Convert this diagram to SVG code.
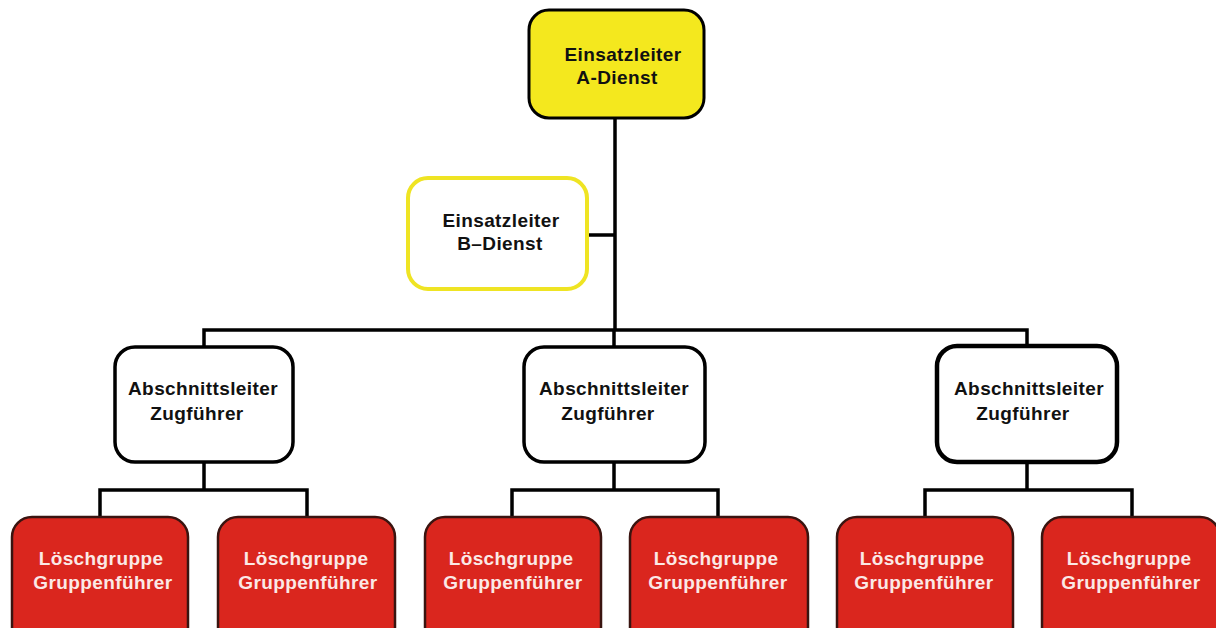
<svg xmlns="http://www.w3.org/2000/svg" width="1216" height="628" viewBox="0 0 1216 628">
<style>
text{font-family:"Liberation Sans",Arial,sans-serif;font-weight:bold;font-size:19px;letter-spacing:0.4px;text-anchor:middle}
.w{fill:#ffffff;stroke:#000;stroke-width:3.5}
.y{fill:#f4e81e;stroke:#000;stroke-width:3}
.b{fill:#ffffff;stroke:#efe423;stroke-width:4}
.r{fill:#da261e;stroke:#3a1410;stroke-width:2.5}
.dk{fill:#111}
.lt{fill:#fbe9e6}
.c{fill:none;stroke:#000;stroke-width:3.5}
</style>
<rect width="1216" height="628" fill="#fff"/>
<g id="connectors">
<path class="c" d="M615 118 V330 M587 235 H615 M204 347 V330 H1027 V346 M614 330 V347"/>
<path class="c" d="M204 462 V490 M100 517 V490 H307 V517"/>
<path class="c" d="M614 462 V490 M512 517 V490 H718 V517"/>
<path class="c" d="M1027 462 V490 M925 517 V490 H1132 V517"/>
</g>
<g id="n_a">
<rect class="y" x="529" y="10" width="175" height="108" rx="20"/>
<text class="dk" x="623" y="61">Einsatzleiter</text>
<text class="dk" x="617" y="84">A-Dienst</text>
</g>
<g id="n_b">
<rect class="b" x="408" y="178" width="179" height="111" rx="20"/>
<text class="dk" x="501" y="227">Einsatzleiter</text>
<text class="dk" x="500" y="250">B–Dienst</text>
</g>
<g id="n_z1">
<rect class="w" x="115" y="347" width="178" height="115" rx="20"/>
<text class="dk" x="203" y="395">Abschnittsleiter</text>
<text class="dk" x="197" y="420">Zugführer</text>
</g>
<g id="n_z2">
<rect class="w" x="524" y="347" width="181" height="115" rx="20"/>
<text class="dk" x="614" y="395">Abschnittsleiter</text>
<text class="dk" x="608" y="420">Zugführer</text>
</g>
<g id="n_z3">
<rect class="w" x="937" y="346" width="180" height="116" rx="20" style="stroke-width:4.5"/>
<text class="dk" x="1029" y="395">Abschnittsleiter</text>
<text class="dk" x="1023" y="420">Zugführer</text>
</g>
<g id="n_l1">
<rect class="r" x="12" y="517" width="176" height="130" rx="20"/>
<text class="lt" x="101" y="565">Löschgruppe</text>
<text class="lt" x="103" y="589">Gruppenführer</text>
</g>
<g id="n_l2">
<rect class="r" x="218" y="517" width="177" height="130" rx="20"/>
<text class="lt" x="306" y="565">Löschgruppe</text>
<text class="lt" x="308" y="589">Gruppenführer</text>
</g>
<g id="n_l3">
<rect class="r" x="425" y="517" width="176" height="130" rx="20"/>
<text class="lt" x="511" y="565">Löschgruppe</text>
<text class="lt" x="513" y="589">Gruppenführer</text>
</g>
<g id="n_l4">
<rect class="r" x="630" y="517" width="178" height="130" rx="20"/>
<text class="lt" x="716" y="565">Löschgruppe</text>
<text class="lt" x="718" y="589">Gruppenführer</text>
</g>
<g id="n_l5">
<rect class="r" x="837" y="517" width="176" height="130" rx="20"/>
<text class="lt" x="922" y="565">Löschgruppe</text>
<text class="lt" x="924" y="589">Gruppenführer</text>
</g>
<g id="n_l6">
<rect class="r" x="1042" y="517" width="178" height="130" rx="20"/>
<text class="lt" x="1129" y="565">Löschgruppe</text>
<text class="lt" x="1131" y="589">Gruppenführer</text>
</g>
</svg>
